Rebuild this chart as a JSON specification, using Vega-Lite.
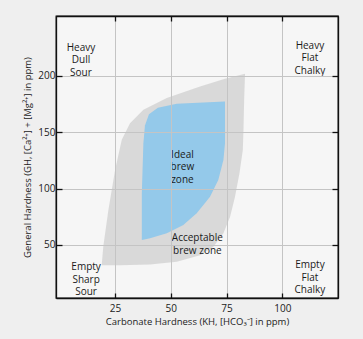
{
  "$schema": "https://vega.github.io/schema/vega-lite/v6.json",
  "autosize": "none",
  "width": 282,
  "height": 282,
  "padding": {"left": 56, "top": 16, "right": 25, "bottom": 41},
  "background": "#efefef",
  "config": {
    "view": {"fill": "#f6f6f6", "stroke": "#111", "strokeWidth": 1.3},
    "font": "Open Sans",
    "axis": {
      "labelFont": "Open Sans", "titleFont": "Open Sans",
      "labelColor": "#222", "titleColor": "#222",
      "labelFontSize": 10, "titleFontSize": 9.5, "titleFontWeight": "normal",
      "domainColor": "#111", "domainWidth": 1.3,
      "tickColor": "#111", "tickWidth": 1.3,
      "gridColor": "#c4c4c4", "gridOpacity": 1, "gridWidth": 1
    }
  },
  "datasets": {
    "zones": [
      {"zone": "acceptable", "o": 1, "kh": 83.3, "gh": 201.8},
      {"zone": "acceptable", "o": 2, "kh": 82.9, "gh": 178.6},
      {"zone": "acceptable", "o": 3, "kh": 82.6, "gh": 152},
      {"zone": "acceptable", "o": 4, "kh": 82.3, "gh": 134.3},
      {"zone": "acceptable", "o": 5, "kh": 80.8, "gh": 113.6},
      {"zone": "acceptable", "o": 6, "kh": 78.8, "gh": 92.8},
      {"zone": "acceptable", "o": 7, "kh": 76.6, "gh": 75.0},
      {"zone": "acceptable", "o": 8, "kh": 73.6, "gh": 60.3},
      {"zone": "acceptable", "o": 9, "kh": 69.1, "gh": 48.4},
      {"zone": "acceptable", "o": 10, "kh": 63.1, "gh": 41.0},
      {"zone": "acceptable", "o": 11, "kh": 52.7, "gh": 35.1},
      {"zone": "acceptable", "o": 12, "kh": 40.7, "gh": 32.8},
      {"zone": "acceptable", "o": 13, "kh": 27.2, "gh": 32.1},
      {"zone": "acceptable", "o": 14, "kh": 19.0, "gh": 32.1},
      {"zone": "acceptable", "o": 15, "kh": 19.7, "gh": 48.4},
      {"zone": "acceptable", "o": 16, "kh": 22.0, "gh": 81.0},
      {"zone": "acceptable", "o": 17, "kh": 25.0, "gh": 116.5},
      {"zone": "acceptable", "o": 18, "kh": 28.0, "gh": 143.2},
      {"zone": "acceptable", "o": 19, "kh": 31.7, "gh": 158.0},
      {"zone": "acceptable", "o": 20, "kh": 37.7, "gh": 169.8},
      {"zone": "acceptable", "o": 21, "kh": 48.2, "gh": 180.2},
      {"zone": "acceptable", "o": 22, "kh": 63.1, "gh": 190.5},
      {"zone": "acceptable", "o": 23, "kh": 74.3, "gh": 197.3},
      {"zone": "ideal", "o": 1, "kh": 37.0, "gh": 54.4},
      {"zone": "ideal", "o": 2, "kh": 37.0, "gh": 95.8},
      {"zone": "ideal", "o": 3, "kh": 37.7, "gh": 140.2},
      {"zone": "ideal", "o": 4, "kh": 38.4, "gh": 156.0},
      {"zone": "ideal", "o": 5, "kh": 40.2, "gh": 165.9},
      {"zone": "ideal", "o": 6, "kh": 44.2, "gh": 171.7},
      {"zone": "ideal", "o": 7, "kh": 52.7, "gh": 175.3},
      {"zone": "ideal", "o": 8, "kh": 74.3, "gh": 177.2},
      {"zone": "ideal", "o": 9, "kh": 74.3, "gh": 140.2},
      {"zone": "ideal", "o": 10, "kh": 73.6, "gh": 125.4},
      {"zone": "ideal", "o": 11, "kh": 71.3, "gh": 107.6},
      {"zone": "ideal", "o": 12, "kh": 67.6, "gh": 92.8},
      {"zone": "ideal", "o": 13, "kh": 61.6, "gh": 78.1},
      {"zone": "ideal", "o": 14, "kh": 55.6, "gh": 67.7},
      {"zone": "ideal", "o": 15, "kh": 48.2, "gh": 60.3},
      {"zone": "ideal", "o": 16, "kh": 40.7, "gh": 55.9}
    ],
    "labels": [
      {"kh": 9.7, "gh": 224.9, "label": "Heavy\nDull\nSour"},
      {"kh": 112.4, "gh": 226.6, "label": "Heavy\nFlat\nChalky"},
      {"kh": 12.0, "gh": 30.1, "label": "Empty\nSharp\nSour"},
      {"kh": 112.4, "gh": 32.1, "label": "Empty\nFlat\nChalky"},
      {"kh": 55.2, "gh": 129.8, "label": "Ideal\nbrew\nzone"},
      {"kh": 61.9, "gh": 55.9, "label": "Acceptable\nbrew zone"}
    ]
  },
  "resolve": {"axis": {"x": "independent", "y": "independent"}},
  "layer": [
    {
      "data": {"name": "zones"},
      "transform": [{"filter": "datum.zone === 'acceptable'"}],
      "mark": {"type": "line", "fill": "#d2d2d2", "fillOpacity": 0.8, "stroke": null, "interpolate": "linear-closed"},
      "encoding": {
        "x": {"field": "kh", "type": "quantitative",
          "scale": {"domain": [-1.5, 125], "nice": false, "zero": false},
          "axis": {"title": "Carbonate Hardness (KH, [HCO₃⁻] in ppm)", "values": [25, 50, 75, 100],
            "grid": true, "tickSize": -5, "labelPadding": 10, "titlePadding": 3, "zindex": 1}},
        "y": {"field": "gh", "type": "quantitative",
          "scale": {"domain": [3, 253], "nice": false, "zero": false},
          "axis": {"title": "General Hardness (GH, [Ca²⁺] + [Mg²⁺] in ppm)", "values": [50, 100, 150, 200],
            "grid": true, "tickSize": -6, "labelPadding": 7, "titlePadding": 5, "zindex": 1}},
        "order": {"field": "o", "type": "quantitative"}
      }
    },
    {
      "data": {"name": "zones"},
      "transform": [{"filter": "datum.zone === 'ideal'"}],
      "mark": {"type": "line", "fill": "#8ac6ec", "fillOpacity": 0.88, "stroke": null, "interpolate": "linear-closed"},
      "encoding": {
        "x": {"field": "kh", "type": "quantitative",
          "axis": {"orient": "top", "title": null, "labels": false, "grid": false, "values": [25, 50, 75, 100], "tickSize": -5, "zindex": 1}},
        "y": {"field": "gh", "type": "quantitative",
          "axis": {"orient": "right", "title": null, "labels": false, "grid": false, "values": [50, 100, 150, 200], "tickSize": -6, "zindex": 1}},
        "order": {"field": "o", "type": "quantitative"}
      }
    },
    {
      "data": {"name": "labels"},
      "mark": {"type": "text", "font": "Open Sans", "fontSize": 10, "lineHeight": 12.5, "lineBreak": "\n", "align": "center", "baseline": "middle", "color": "#1a1a1a"},
      "encoding": {
        "x": {"field": "kh", "type": "quantitative", "axis": null},
        "y": {"field": "gh", "type": "quantitative", "axis": null},
        "text": {"field": "label", "type": "nominal"}
      }
    }
  ]
}
